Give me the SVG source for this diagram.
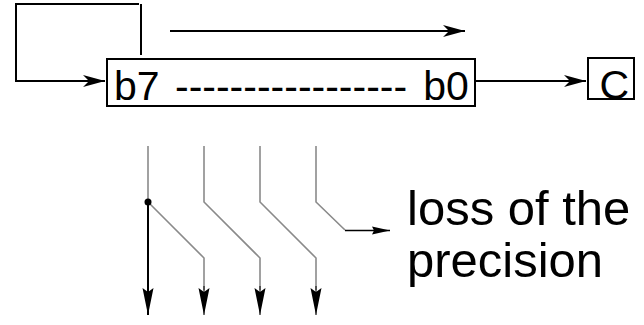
<svg xmlns="http://www.w3.org/2000/svg" width="644" height="325" viewBox="0 0 644 325">
<style>
.ln{fill:none;stroke:#000;stroke-width:2}
.gr{fill:none;stroke:#8a8a8a;stroke-width:1.6}
.bx{fill:#fff;stroke:#000;stroke-width:2}
.t{font-family:"Liberation Sans",Arial,sans-serif;fill:#000}
</style>
<defs>
<marker id="ah" markerUnits="userSpaceOnUse" markerWidth="24" markerHeight="14" refX="22" refY="7" orient="auto">
<path d="M0,1 L22,7 L0,13 L6,7 Z" fill="#000"/>
</marker>
<marker id="dn" markerUnits="userSpaceOnUse" markerWidth="28" markerHeight="12" refX="27" refY="6" orient="auto">
<path d="M0,0.5 L27,6 L0,11.5 L4,6 Z" fill="#000"/>
</marker>
<marker id="sm" markerUnits="userSpaceOnUse" markerWidth="20" markerHeight="10" refX="18" refY="5" orient="auto">
<path d="M0,1 L18,5 L0,9 L2,5 Z" fill="#000"/>
</marker>
</defs>
<g id="connectors">
<path class="ln" d="M141,55 V4"/>
<path class="ln" d="M139,4 H16 V81 H105" marker-end="url(#ah)"/>
<path class="ln" d="M170,31 H465" marker-end="url(#ah)"/>
<path class="ln" d="M476,81 H586" marker-end="url(#ah)"/>
<path class="gr" d="M148,146 V202 L204,258 V290"/>
<path class="gr" d="M204,146 V202 L260,258 V290"/>
<path class="gr" d="M260,146 V202 L316,258 V290"/>
<path class="gr" d="M316,146 V202 L345,230"/>
<path class="ln" d="M345,230.5 H390" style="stroke-width:1.6" marker-end="url(#sm)"/>
<path class="ln" d="M148,202 V315" marker-end="url(#dn)"/>
<path class="ln" d="M204,286 V315" style="stroke-width:1" marker-end="url(#dn)"/>
<path class="ln" d="M260,286 V315" style="stroke-width:1" marker-end="url(#dn)"/>
<path class="ln" d="M316,286 V315" style="stroke-width:1" marker-end="url(#dn)"/>
<circle cx="148" cy="202" r="3.5" fill="#000"/>
</g>
<g id="register">
<rect class="bx" x="107" y="59" width="368" height="47"/>
<text class="t" y="100" font-size="41"><tspan x="114">b7</tspan><tspan x="175">-----------------</tspan><tspan x="423.3">b0</tspan></text>
</g>
<g id="carry">
<rect class="bx" x="588" y="58" width="46" height="41"/>
<text class="t" x="599.5" y="99" font-size="41">C</text>
</g>
<g id="label">
<text class="t" x="407" y="225" font-size="49">loss of the</text>
<text class="t" x="407" y="277" font-size="49">precision</text>
</g>
</svg>
